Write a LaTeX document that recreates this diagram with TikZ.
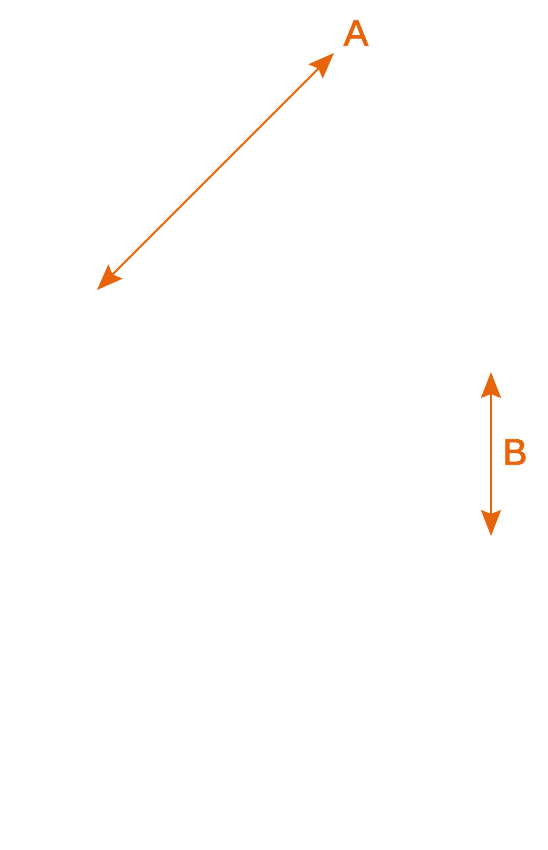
\documentclass[tikz,border=0pt]{standalone}
\usepackage{fontspec}
\setmainfont{Liberation Sans}
\newfontfamily\labelfont[FakeBold=2]{Liberation Sans}
\usetikzlibrary{arrows.meta}
\definecolor{arrorange}{HTML}{E8640A}
\tikzset{
  dimarrow/.style={draw=arrorange, line width=2pt, {Stealth[length=26pt,width=20pt,inset=4pt]}-{Stealth[length=26pt,width=20pt,inset=4pt]}},
  dimlabel/.style={text=arrorange, font=\labelfont\fontsize{37}{40}\selectfont, inner sep=0pt}
}
\begin{document}
\begin{tikzpicture}[x=1pt,y=1pt]
\useasboundingbox (0,0) rectangle (547,850);
\coordinate (a1) at (97,560);
\coordinate (a2) at (334,797);
\coordinate (b1) at (491,478);
\coordinate (b2) at (491,314);
\draw[dimarrow] (a1) -- (a2);
\draw[dimarrow] (b1) -- (b2);
\node[dimlabel] (la) at (356,817) {A};
\node[dimlabel] (lb) at (515,398) {B};
\end{tikzpicture}
\end{document}
